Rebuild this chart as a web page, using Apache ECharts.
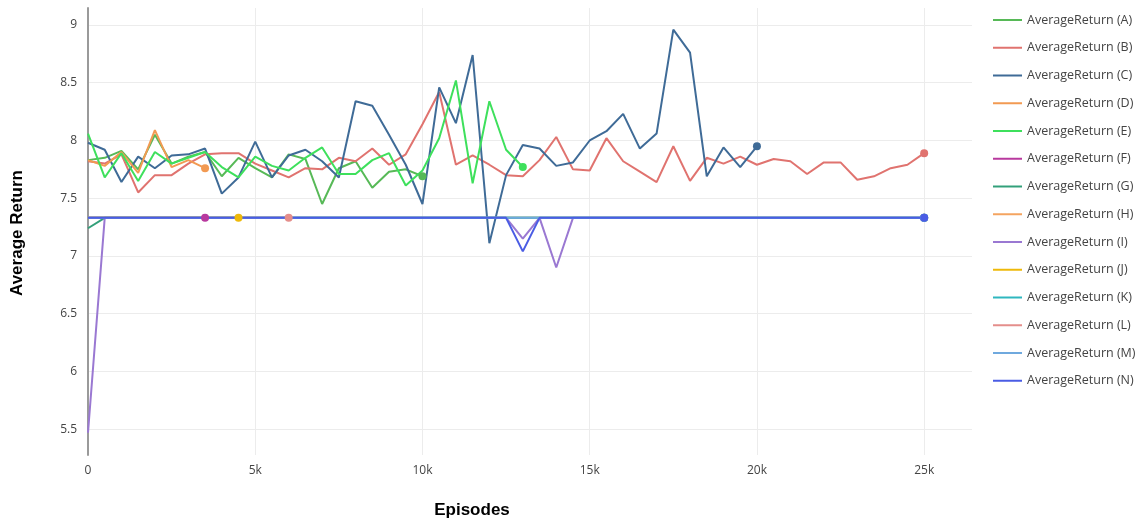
<!DOCTYPE html>
<html>
<head>
<meta charset="utf-8">
<script src="https://cdn.jsdelivr.net/npm/echarts@6/dist/echarts.min.js"></script>
<style>
html,body{margin:0;padding:0;background:#fff;}
#chart{width:1140px;height:521px;}
</style>
</head>
<body>
<div id="chart"></div>
<script>
// Episodes (x values), step 500
const episodes = [
  0,500,1000,1500,2000,2500,3000,3500,4000,4500,
  5000,5500,6000,6500,7000,7500,8000,8500,9000,9500,
  10000,10500,11000,11500,12000,12500,13000,13500,14000,14500,
  15000,15500,16000,16500,17000,17500,18000,18500,19000,19500,
  20000,20500,21000,21500,22000,22500,23000,23500,24000,24500,
  25000
];

const seriesNames = ['AverageReturn (A)','AverageReturn (B)','AverageReturn (C)','AverageReturn (D)','AverageReturn (E)','AverageReturn (F)','AverageReturn (G)','AverageReturn (H)','AverageReturn (I)','AverageReturn (J)','AverageReturn (K)','AverageReturn (L)','AverageReturn (M)','AverageReturn (N)'];

const valuesA = [
  7.83,7.85,7.91,7.75,8.05,7.80,7.86,7.90,7.69,7.85,
  7.76,7.68,7.88,7.84,7.45,7.76,7.82,7.59,7.73,7.75,
  7.69
];
const valuesB = [
  7.82,7.80,7.88,7.55,7.70,7.70,7.80,7.88,7.89,7.89,
  7.80,7.74,7.68,7.76,7.75,7.85,7.82,7.93,7.79,7.88,
  8.14,8.42,7.79,7.87,7.79,7.70,7.69,7.83,8.03,7.75,
  7.74,8.02,7.82,7.73,7.64,7.95,7.65,7.85,7.80,7.86,
  7.79,7.84,7.82,7.71,7.81,7.81,7.66,7.69,7.76,7.79,
  7.89
];
const valuesC = [
  7.98,7.92,7.64,7.86,7.76,7.87,7.88,7.93,7.54,7.68,
  7.99,7.68,7.87,7.92,7.82,7.68,8.34,8.30,8.05,7.79,
  7.45,8.46,8.15,8.74,7.11,7.70,7.96,7.93,7.78,7.81,
  8.00,8.08,8.23,7.93,8.06,8.96,8.76,7.69,7.94,7.77,
  7.95
];
const valuesD = [7.83,7.78,7.90,7.72,8.09,7.77,7.83,7.76];
const valuesE = [
  8.06,7.68,7.89,7.65,7.90,7.80,7.85,7.90,7.77,7.68,
  7.86,7.78,7.74,7.85,7.94,7.71,7.71,7.83,7.89,7.61,
  7.74,8.02,8.52,7.63,8.34,7.92,7.77
];
const valuesF = [7.33,7.33,7.33,7.33,7.33,7.33,7.33,7.33];
const valuesG = [
  7.24,7.33,7.33,7.33,7.33,7.33,7.33,7.33,7.33,7.33,
  7.33,7.33,7.33,7.33,7.33,7.33,7.33,7.33,7.33,7.33,
  7.33,7.33,7.33,7.33,7.33,7.33,7.33,7.33,7.33,7.33,
  7.33,7.33,7.33,7.33,7.33,7.33,7.33,7.33,7.33,7.33,
  7.33,7.33,7.33,7.33,7.33,7.33,7.33,7.33,7.33,7.33,
  7.33
];
const valuesH = [
  7.33,7.33,7.33,7.33,7.33,7.33,7.33,7.33,7.33,7.33,
  7.33,7.33,7.33,7.33,7.33,7.33,7.33,7.33,7.33,7.33,
  7.33,7.33,7.33,7.33,7.33,7.33,7.33,7.33,7.33,7.33,
  7.33,7.33,7.33,7.33,7.33,7.33,7.33,7.33,7.33,7.33,
  7.33,7.33,7.33,7.33,7.33,7.33,7.33,7.33,7.33,7.33,
  7.33
];
const valuesI = [
  5.47,7.33,7.33,7.33,7.33,7.33,7.33,7.33,7.33,7.33,
  7.33,7.33,7.33,7.33,7.33,7.33,7.33,7.33,7.33,7.33,
  7.33,7.33,7.33,7.33,7.33,7.33,7.15,7.33,6.90,7.33,
  7.33,7.33,7.33,7.33,7.33,7.33,7.33,7.33,7.33,7.33,
  7.33,7.33,7.33,7.33,7.33,7.33,7.33,7.33,7.33,7.33,
  7.33
];
const valuesJ = [7.33,7.33,7.33,7.33,7.33,7.33,7.33,7.33,7.33,7.33];
const valuesK = [
  7.33,7.33,7.33,7.33,7.33,7.33,7.33,7.33,7.33,7.33,
  7.33,7.33,7.33,7.33,7.33,7.33,7.33,7.33,7.33,7.33,
  7.33,7.33,7.33,7.33,7.33,7.33,7.33,7.33,7.33,7.33,
  7.33,7.33,7.33,7.33,7.33,7.33,7.33,7.33,7.33,7.33,
  7.33,7.33,7.33,7.33,7.33,7.33,7.33,7.33,7.33,7.33,
  7.33
];
const valuesL = [7.33,7.33,7.33,7.33,7.33,7.33,7.33,7.33,7.33,7.33,7.33,7.33,7.33];
const valuesM = [
  7.33,7.33,7.33,7.33,7.33,7.33,7.33,7.33,7.33,7.33,
  7.33,7.33,7.33,7.33,7.33,7.33,7.33,7.33,7.33,7.33,
  7.33,7.33,7.33,7.33,7.33,7.33,7.33,7.33,7.33,7.33,
  7.33,7.33,7.33,7.33,7.33,7.33,7.33,7.33,7.33,7.33,
  7.33,7.33,7.33,7.33,7.33,7.33,7.33,7.33,7.33,7.33,
  7.33
];
const valuesN = [
  7.33,7.33,7.33,7.33,7.33,7.33,7.33,7.33,7.33,7.33,
  7.33,7.33,7.33,7.33,7.33,7.33,7.33,7.33,7.33,7.33,
  7.33,7.33,7.33,7.33,7.33,7.33,7.04,7.33,7.33,7.33,
  7.33,7.33,7.33,7.33,7.33,7.33,7.33,7.33,7.33,7.33,
  7.33,7.33,7.33,7.33,7.33,7.33,7.33,7.33,7.33,7.33,
  7.33
];

const allValues = [valuesA,valuesB,valuesC,valuesD,valuesE,valuesF,valuesG,valuesH,valuesI,valuesJ,valuesK,valuesL,valuesM,valuesN];
const colors = ['#57b957','#e0736f','#3f6b97','#f29a52','#3ee05c','#b8399e','#33a07a','#f4a460','#9a78d2','#eeb90a','#2fb7bf','#e48e8b','#6fa9de','#4a5ce4'];

const xTickFormat = v => v === 0 ? '0' : (v/1000) + 'k';

const series = allValues.map((vals, si) => {
  const last = vals.length - 1;
  return {
    name: seriesNames[si],
    type: 'line',
    data: vals.map((v, i) => [episodes[i], v]),
    showSymbol: true,
    symbol: 'circle',
    symbolSize: (val, params) => params.dataIndex === last ? 8 : 0,
    lineStyle: { width: 2, color: colors[si] },
    itemStyle: { color: colors[si] },
    emphasis: { disabled: true },
    animation: false
  };
});

const chart = echarts.init(document.getElementById('chart'), null, {renderer: 'canvas'});
chart.setOption({
  backgroundColor: '#ffffff',
  animation: false,
  color: colors,
  grid: { left: 88, right: 168, top: 8, bottom: 66 },
  xAxis: {
    type: 'value',
    min: 0, max: 26430,
    minInterval: 5000, maxInterval: 5000, splitNumber: 5,
    axisLine: { show: false },
    axisTick: { show: false },
    axisLabel: { formatter: xTickFormat, color: '#444', fontSize: 12, fontFamily: 'Open Sans', margin: 10, showMaxLabel: false },
    splitLine: { show: true, showMaxLine: false, lineStyle: { color: '#ececec', width: 1 } }
  },
  yAxis: {
    type: 'value',
    min: 5.277, max: 9.147,
    minInterval: 0.5, maxInterval: 0.5, splitNumber: 8,
    axisLine: { show: true, lineStyle: { color: '#9a9a9a', width: 2 } },
    axisTick: { show: false },
    axisLabel: { color: '#444', fontSize: 12, fontFamily: 'Open Sans', margin: 11, showMinLabel: false, showMaxLabel: false },
    splitLine: { show: true, showMinLine: false, showMaxLine: false, lineStyle: { color: '#ececec', width: 1 } }
  },
  legend: {
    orient: 'vertical',
    left: 993, top: 13,
    padding: 0,
    icon: 'rect',
    itemWidth: 29, itemHeight: 2,
    itemGap: 13.75,
    textStyle: { color: '#444', fontSize: 12.5, fontFamily: 'Open Sans', lineHeight: 14, padding: [0,0,0,0] },
    data: seriesNames
  },
  graphic: [
    { type: 'text', x: 17, y: 233, rotation: Math.PI/2,
      style: { text: 'Average Return', font: 'bold 17px "Liberation Sans", Arial, sans-serif', fill: '#000', textAlign: 'center', textVerticalAlign: 'middle' } },
    { type: 'text',
      style: { text: 'Episodes', font: 'bold 17px "Liberation Sans", Arial, sans-serif', fill: '#000', x: 472, y: 510, textAlign: 'center', textVerticalAlign: 'middle' } }
  ],
  series: series
});
</script>
</body>
</html>
